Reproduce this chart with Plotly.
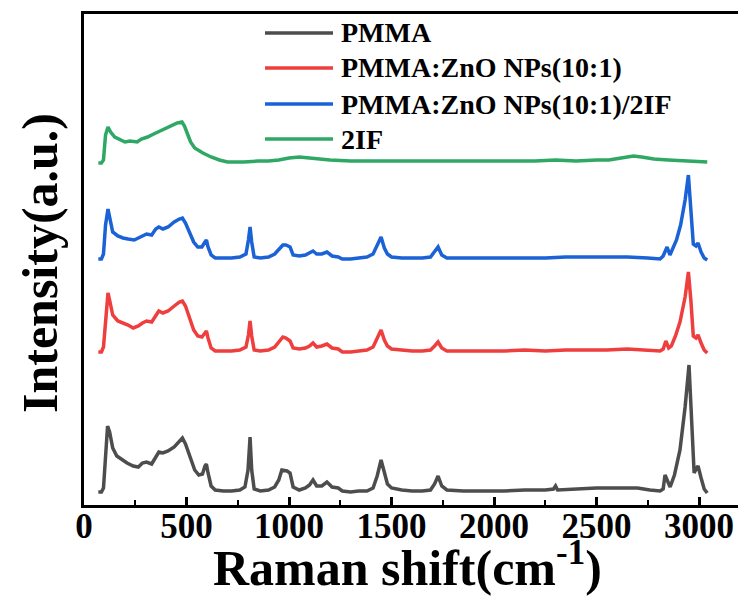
import plotly.graph_objects as go

# ---------------- data ----------------
names = ["PMMA", "PMMA:ZnO NPs(10:1)", "PMMA:ZnO NPs(10:1)/2IF", "2IF"]
colors = ["#4d4d4d", "#ef3e3e", "#1a62d6", "#2fa865"]

pmma_x = [70, 85, 95, 105, 115, 125, 140, 160, 185, 210, 240, 265, 285, 305, 330, 350, 365, 385, 410, 440,
          465, 480, 495, 515, 540, 560, 578, 590, 597, 605, 620, 640, 680, 720, 760, 785, 800, 810, 818, 830,
          860, 900, 930, 950, 965, 990, 1005, 1020, 1050, 1080, 1100, 1117, 1135, 1160, 1185, 1210, 1240, 1260,
          1300, 1340, 1380, 1410, 1430, 1449, 1465, 1480, 1500, 1550, 1600, 1650, 1690, 1710, 1727, 1745, 1770,
          1850, 1950, 2050, 2150, 2250, 2290, 2300, 2310, 2400, 2500, 2600, 2700, 2760, 2810, 2825, 2834, 2859,
          2880, 2907, 2932, 2951, 2966, 2976, 2988, 2995, 3010, 3025, 3040]
pmma_y = [13, 13, 17, 50, 79, 73, 57, 49, 45, 42, 39, 38, 42, 43, 41, 48, 53, 52, 54, 58,
          64, 67, 61, 49, 35, 30, 31, 39, 41, 32, 19, 15, 14, 14, 15, 18, 35, 68, 35, 16,
          14, 15, 18, 25, 35, 34, 32, 18, 15, 17, 20, 25, 19, 19, 23, 18, 17, 14,
          13, 14, 14, 17, 29, 45, 31, 21, 17, 15, 14, 14, 15, 21, 29, 19, 15,
          14, 14, 14, 15, 15, 16, 19, 15, 16, 17, 17, 17, 15, 14, 16, 30, 18,
          30, 55, 98, 140, 82, 32, 37, 39, 27, 16, 12]

zno_x = [70, 85, 95, 105, 117, 127, 140, 165, 190, 215, 240, 265, 285, 305, 330, 350, 365, 385, 410, 440,
         465, 480, 495, 515, 535, 555, 575, 590, 597, 605, 620, 640, 680, 720, 760, 790, 802, 810, 818, 830,
         860, 900, 930, 950, 970, 985, 1005, 1020, 1050, 1080, 1100, 1117, 1135, 1160, 1185, 1210, 1240, 1260,
         1300, 1340, 1380, 1410, 1430, 1449, 1465, 1480, 1500, 1550, 1600, 1650, 1690, 1710, 1727, 1745, 1770,
         1850, 1950, 2050, 2150, 2250, 2350, 2450, 2550, 2650, 2750, 2810, 2825, 2838, 2852, 2865, 2885, 2907,
         2932, 2948, 2960, 2972, 2985, 2995, 3010, 3025, 3040]
zno_y = [153, 153, 158, 187, 212, 203, 190, 184, 182, 180, 177, 179, 182, 184, 183, 189, 194, 192, 194, 199,
         203, 204, 199, 187, 175, 169, 168, 172, 174, 167, 157, 154, 154, 154, 155, 158, 170, 184, 169, 155,
         154, 155, 158, 163, 168, 167, 164, 157, 156, 157, 159, 162, 158, 159, 161, 157, 156, 153,
         153, 154, 155, 158, 166, 175, 165, 159, 156, 155, 154, 154, 155, 159, 163, 157, 154,
         154, 154, 154, 155, 154, 155, 155, 155, 156, 155, 154, 156, 164, 157, 159, 169, 183,
         208, 233, 205, 169, 167, 170, 162, 155, 152]

zno2if_x = [70, 85, 95, 105, 117, 127, 140, 165, 190, 215, 245, 265, 285, 305, 330, 350, 365, 385, 410, 440,
            465, 480, 495, 515, 535, 555, 575, 590, 597, 605, 620, 640, 680, 720, 760, 790, 802, 810, 818, 830,
            860, 900, 930, 950, 970, 985, 1005, 1020, 1050, 1080, 1100, 1117, 1135, 1160, 1185, 1210, 1240, 1260,
            1300, 1340, 1380, 1410, 1430, 1449, 1465, 1480, 1500, 1550, 1600, 1650, 1690, 1710, 1727, 1745, 1770,
            1850, 1950, 2050, 2150, 2250, 2350, 2450, 2550, 2650, 2750, 2810, 2825, 2844, 2858, 2870, 2890, 2910,
            2932, 2948, 2960, 2972, 2985, 2995, 3010, 3025, 3040]
zno2if_y = [246, 246, 251, 280, 296, 285, 273, 269, 267, 266, 265, 267, 269, 271, 270, 276, 278, 276, 278, 283,
            286, 287, 282, 273, 263, 258, 258, 263, 265, 258, 250, 247, 247, 247, 248, 251, 265, 278, 263, 248,
            247, 248, 251, 256, 260, 260, 258, 250, 249, 250, 252, 254, 251, 251, 253, 249, 248, 246,
            246, 247, 248, 251, 259, 268, 257, 251, 248, 247, 247, 247, 248, 253, 258, 250, 247,
            247, 247, 247, 247, 247, 248, 248, 248, 248, 247, 246, 249, 258, 250, 255, 265, 280,
            305, 330, 300, 261, 259, 262, 253, 247, 245]

if2_x = [70, 85, 95, 105, 117, 130, 150, 175, 200, 225, 259, 280, 310, 340, 370, 400, 430, 455, 478, 490,
         505, 520, 540, 560, 580, 620, 660, 700, 780, 850, 900, 950, 1000, 1050, 1100, 1150, 1200, 1300, 1400,
         1500, 1600, 1700, 1800, 1900, 2000, 2100, 2200, 2300, 2400, 2500, 2560, 2620, 2680, 2720, 2780, 2850,
         2950, 3040]
if2_y = [342, 342, 345, 370, 378, 373, 368, 365, 363, 364, 363, 366, 368, 371, 374, 377, 380, 382, 383, 379,
         371, 363, 357, 354, 352, 348, 345, 343, 343, 344, 344, 345, 347, 348, 347, 346, 345, 344, 344,
         344, 344, 344, 344, 344, 344, 344, 344, 345, 344, 345, 345, 347, 349, 348, 346, 345,
         344, 343]

series_x = [pmma_x, zno_x, zno2if_x, if2_x]
series_y = [pmma_y, zno_y, zno2if_y, if2_y]

x_ticks = [0, 500, 1000, 1500, 2000, 2500, 3000]

FONT = "Liberation Serif"

fig = go.Figure()
for nm, c, xs, ys in zip(names, colors, series_x, series_y):
    fig.add_trace(go.Scatter(x=xs, y=ys, mode="lines", name=nm,
                             line=dict(color=c, width=3.5), showlegend=False))

# The page body has an 8px margin, so the figure is laid out 8px up/left.
OFF = 8
W, H = 746 - OFF, 598 - OFF
L, R, T, B = 84 - OFF, 0, 14 - OFF, 93
pw, ph = W - L - R, H - T - B


def px2paper_x(px):
    return (px - OFF - L) / pw


def px2paper_y(py):
    return (H - B - (py - OFF)) / ph


legend_rows = [33, 68, 104, 139]
shapes = []
annotations = []
for nm, c, ry in zip(names, colors, legend_rows):
    shapes.append(dict(type="line", xref="paper", yref="paper",
                       x0=px2paper_x(265), x1=px2paper_x(333),
                       y0=px2paper_y(ry), y1=px2paper_y(ry),
                       line=dict(color=c, width=3.5)))
    annotations.append(dict(text=nm, xref="paper", yref="paper",
                            x=px2paper_x(339), y=px2paper_y(ry),
                            xanchor="left", yanchor="middle", showarrow=False,
                            font=dict(family=FONT, size=28, color="black", weight="bold")))

annotations.append(dict(text="Raman shift(cm<sup>-1</sup>)", xref="paper", yref="paper",
                        x=px2paper_x(407), y=px2paper_y(564), xanchor="center", yanchor="middle",
                        showarrow=False,
                        font=dict(family=FONT, size=50, color="black", weight="bold")))
annotations.append(dict(text="Intensity(a.u.)", xref="paper", yref="paper",
                        x=px2paper_x(40), y=px2paper_y(263), xanchor="center", yanchor="middle",
                        textangle=-90, showarrow=False,
                        font=dict(family=FONT, size=50, color="black", weight="bold")))

fig.update_layout(
    width=W, height=H,
    margin=dict(l=L, r=R, t=T, b=B, autoexpand=False),
    paper_bgcolor="white", plot_bgcolor="white",
    shapes=shapes, annotations=annotations,
    showlegend=False,
)
fig.update_xaxes(
    range=[0, 3229], showgrid=False, zeroline=False,
    showline=True, linecolor="black", linewidth=3, mirror=True,
    tickmode="array", tickvals=x_ticks, ticktext=[str(v) for v in x_ticks],
    ticks="inside", ticklen=8, tickwidth=2.5, tickcolor="black",
    ticklabelstandoff=-12,
    minor=dict(ticks="inside", dtick=250, ticklen=5, tickwidth=2, tickcolor="black", showgrid=False),
    tickfont=dict(family=FONT, size=35, color="black", weight="bold"),
)
fig.update_yaxes(
    range=[0, 491], showgrid=False, zeroline=False,
    showline=True, linecolor="black", linewidth=3, mirror=False,
    showticklabels=False, ticks="",
)

fig.write_html("out.html")
